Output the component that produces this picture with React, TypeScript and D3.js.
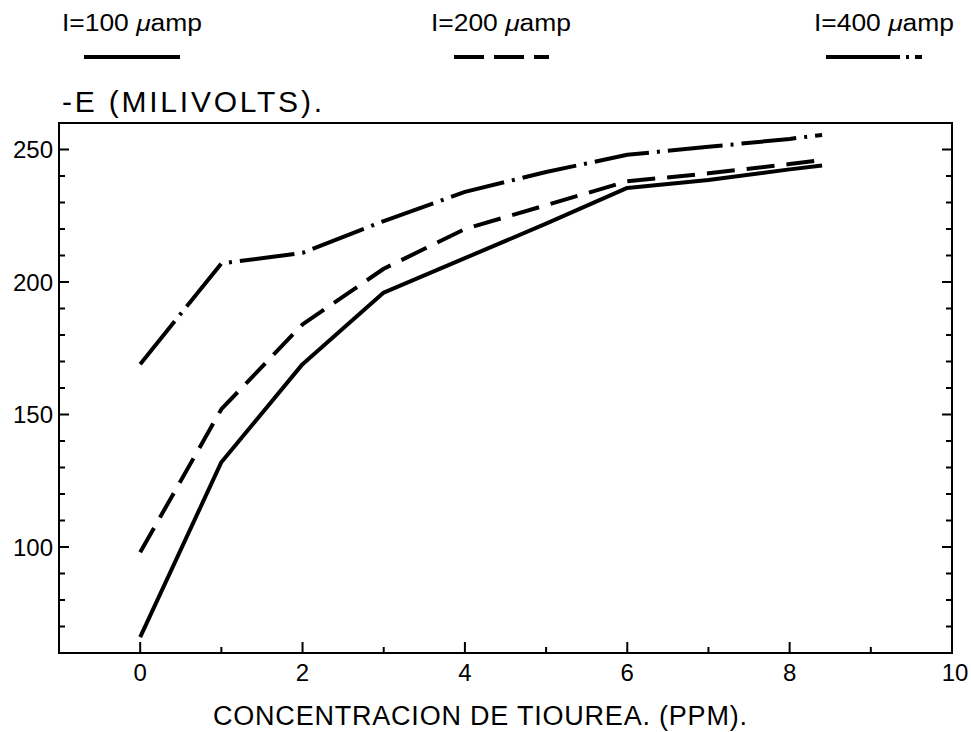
import React from "react";
import * as d3 from "d3";

// ---- data ----
const concentration = [0, 1, 2, 3, 4, 5, 6, 7, 8, 8.4];
const e100 = [66, 132, 169, 196, 209, 222, 235.5, 238.5, 242.5, 244];
const e200 = [98, 152, 184, 205, 220, 229, 238, 241, 244.5, 246];
const e400 = [169, 207, 211, 223, 234, 241.5, 248, 251, 254, 255.5];

const seriesLabels = ["100", "200", "400"];
const yMajorTicks = [100, 150, 200, 250];
const yMinorTicks = [70, 80, 90, 110, 120, 130, 140, 160, 170, 180, 190, 210, 220, 230, 240];
const xMajorTicks = [0, 2, 4, 6, 8, 10];
const xMinorTicks = [1, 3, 5, 7, 9];

const xTitle = "CONCENTRACION DE TIOUREA. (PPM).";
const yTitle = "-E (MILIVOLTS).";

const W = 971;
const H = 732;
const M = { left: 59, right: 952, top: 123, bottom: 653 };

const FONT = "'Liberation Sans', 'DejaVu Sans', Arial, sans-serif";

export default function App() {
  const x = d3.scaleLinear().domain([-1, 10]).range([M.left, M.right]);
  const y = d3.scaleLinear().domain([60, 260]).range([M.bottom, M.top]);

  const line = d3
    .line<[number, number]>()
    .x((d) => x(d[0]))
    .y((d) => y(d[1]));

  const mk = (vals: number[]) => concentration.map((c, i) => [c, vals[i]] as [number, number]);

  const styles = [
    { dash: undefined as string | undefined, data: e100 },
    { dash: "28 12", data: e200 },
    { dash: "55 8 3 8", data: e400 },
  ];

  const legendX = [
    { tx: 62, x1: 84, x2: 180, dash: undefined as string | undefined },
    { tx: 431, x1: 454, x2: 549, dash: "30 10" },
    { tx: 814, x1: 826, x2: 922, dash: "74 6 3 6" },
  ];

  return (
    <div style={{ position: "absolute", left: 0, top: 0 }}>
      <svg width={W} height={H} style={{ display: "block", background: "#fff" }}>
        <rect x={0} y={0} width={W} height={H} fill="#fff" />

        {/* Legend */}
        {legendX.map((l, i) => (
          <g key={i}>
            <text
              x={l.tx}
              y={31}
              fontFamily={FONT}
              fontSize={23}
              textLength={140}
              lengthAdjust="spacingAndGlyphs"
              fill="#000"
            >
              {"I=" + seriesLabels[i] + " "}
              <tspan fontStyle="italic">μ</tspan>
              {"amp"}
            </text>
            <line
              x1={l.x1}
              x2={l.x2}
              y1={57}
              y2={57}
              stroke="#000"
              strokeWidth={4}
              strokeDasharray={l.dash}
            />
          </g>
        ))}

        {/* Y title */}
        <text
          x={62}
          y={112}
          fontFamily={FONT}
          fontSize={30}
          textLength={260}
          lengthAdjust="spacing"
          fill="#000"
        >
          {yTitle}
        </text>

        {/* Frame */}
        <rect
          x={M.left}
          y={M.top}
          width={M.right - M.left}
          height={M.bottom - M.top}
          fill="none"
          stroke="#000"
          strokeWidth={2}
        />

        {/* Left / right axis ticks */}
        {yMajorTicks.map((t) => (
          <g key={"ym" + t}>
            <line x1={M.left} x2={M.left + 10} y1={y(t)} y2={y(t)} stroke="#000" strokeWidth={2} />
            <line x1={M.right} x2={M.right - 10} y1={y(t)} y2={y(t)} stroke="#000" strokeWidth={2} />
            <text
              x={53}
              y={y(t)}
              dy="0.36em"
              textAnchor="end"
              fontFamily={FONT}
              fontSize={24}
              fill="#000"
            >
              {t}
            </text>
          </g>
        ))}
        {yMinorTicks.map((t) => (
          <g key={"yn" + t}>
            <line x1={M.left} x2={M.left + 6} y1={y(t)} y2={y(t)} stroke="#000" strokeWidth={2} />
            <line x1={M.right} x2={M.right - 6} y1={y(t)} y2={y(t)} stroke="#000" strokeWidth={2} />
          </g>
        ))}

        {/* Bottom axis ticks */}
        {xMajorTicks.map((t) => (
          <g key={"xm" + t}>
            <line x1={x(t)} x2={x(t)} y1={M.bottom} y2={M.bottom - 11} stroke="#000" strokeWidth={2} />
            <text
              x={x(t) + (t === 10 ? 3 : 0)}
              y={681}
              textAnchor="middle"
              fontFamily={FONT}
              fontSize={24}
              fill="#000"
            >
              {t}
            </text>
          </g>
        ))}
        {xMinorTicks.map((t) => (
          <line key={"xn" + t} x1={x(t)} x2={x(t)} y1={M.bottom} y2={M.bottom - 6} stroke="#000" strokeWidth={2} />
        ))}

        {/* X title */}
        <text
          x={213}
          y={725}
          fontFamily={FONT}
          fontSize={27}
          textLength={534}
          lengthAdjust="spacing"
          fill="#000"
        >
          {xTitle}
        </text>

        {/* Series */}
        {styles.map((s, i) => (
          <path
            key={"s" + i}
            d={line(mk(s.data)) || ""}
            fill="none"
            stroke="#000"
            strokeWidth={4}
            strokeDasharray={s.dash}
            strokeLinejoin="round"
          />
        ))}
      </svg>
    </div>
  );
}
